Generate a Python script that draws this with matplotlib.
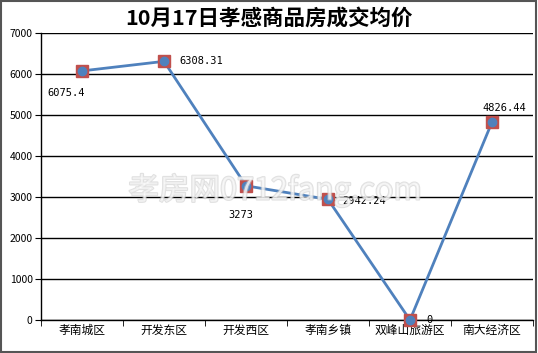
import matplotlib.pyplot as plt
import matplotlib.patheffects as pe
from matplotlib.patches import Rectangle

plt.rcParams['font.family'] = ['Noto Sans CJK SC', 'DejaVu Sans']

districts = ['孝南城区', '开发东区', '开发西区', '孝南乡镇', '双峰山旅游区', '南大经济区']
prices = [6075.4, 6308.31, 3273, 2942.24, 0, 4826.44]
labels = ['6075.4', '6308.31', '3273', '2942.24', '0', '4826.44']
# label offsets in points
offsets = [(-25, -16), (11, 0), (-13, -21), (10, -1), (12, 0), (-7, 10)]

fig = plt.figure(figsize=(5.38, 3.53), dpi=100)
ax = fig.add_axes([41/538, 1 - 320/353, 492/538, 287/353])

x = list(range(len(districts)))
ax.plot(x, prices, color='#4F81BD', linewidth=2, zorder=3)
ax.plot(x, prices, linestyle='none', marker='s', markersize=8,
        color='#C0504D', zorder=4, clip_on=False)
ax.plot(x, prices, linestyle='none', marker='o', markersize=6,
        color='#4F81BD', zorder=5, clip_on=False)

for xi, yi, t, (dx, dy) in zip(x, prices, labels, offsets):
    ax.annotate(t, (xi, yi), xytext=(dx, dy), textcoords='offset points',
                fontsize=7.5, family='DejaVu Sans Mono', va='center', ha='left',
                zorder=7)

ax.set_xlim(-0.5, len(districts) - 0.5)
ax.set_ylim(0, 7000)
ax.set_yticks(range(0, 7001, 1000))
ax.set_yticklabels([str(v) for v in range(0, 7001, 1000)], fontsize=7.5)
ax.yaxis.grid(True, color='black', linewidth=1)
ax.set_axisbelow(True)

ax.set_xticks(x)
ax.set_xticklabels(districts, fontsize=8.5)
ax.tick_params(axis='x', length=0, pad=3)
ax.set_xticks([i - 0.5 for i in range(len(districts) + 1)], minor=True)
ax.tick_params(axis='x', which='minor', length=4, direction='out')
ax.tick_params(axis='y', length=4, direction='out', pad=2)

for s in ['top', 'right']:
    ax.spines[s].set_visible(False)
ax.spines['left'].set_linewidth(1)
ax.spines['bottom'].set_linewidth(1)

# faint watermark
fig.text(275/538, 1 - 190/353, '孝房网0712fang.com', ha='center', va='center',
         fontsize=22, color='white', alpha=0.55, zorder=6,
         path_effects=[pe.withStroke(linewidth=1.5, foreground='#c8c8c8')])

fig.text(0.5, 1 - 18/353, '10月17日孝感商品房成交均价', ha='center', va='center',
         fontsize=15.5, fontweight='bold')

fig.patches.append(Rectangle((0.002, 0.003), 0.995, 0.994, transform=fig.transFigure,
                             fill=False, edgecolor='#555555', linewidth=1.5))

fig.savefig('out.png', dpi=100)
